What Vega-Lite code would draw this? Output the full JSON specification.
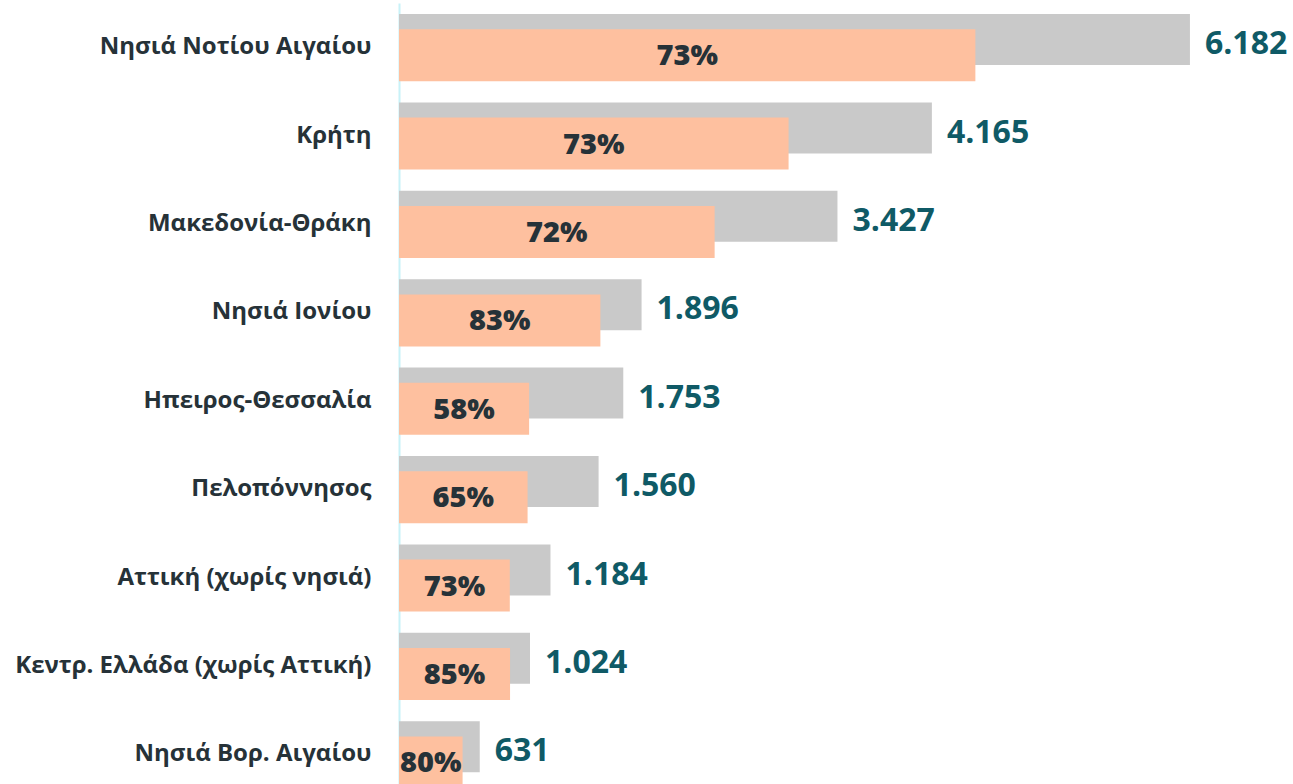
{
  "$schema": "https://vega.github.io/schema/vega-lite/v6.json",
  "width": 870,
  "height": 781,
  "autosize": {"type": "none"},
  "padding": {"left": 399, "top": 3, "right": 24, "bottom": 0},
  "background": "white",
  "config": {"view": {"stroke": null}},
  "data": {
    "values": [
      {"region": "Νησιά Νοτίου Αιγαίου", "total": 6182, "part": 4505, "total_label": "6.182", "pct": "73%"},
      {"region": "Κρήτη", "total": 4165, "part": 3045, "total_label": "4.165", "pct": "73%"},
      {"region": "Μακεδονία-Θράκη", "total": 3427, "part": 2467, "total_label": "3.427", "pct": "72%"},
      {"region": "Νησιά Ιονίου", "total": 1896, "part": 1574, "total_label": "1.896", "pct": "83%"},
      {"region": "Ηπειρος-Θεσσαλία", "total": 1753, "part": 1017, "total_label": "1.753", "pct": "58%"},
      {"region": "Πελοπόννησος", "total": 1560, "part": 1005, "total_label": "1.560", "pct": "65%"},
      {"region": "Αττική (χωρίς νησιά)", "total": 1184, "part": 866, "total_label": "1.184", "pct": "73%"},
      {"region": "Κεντρ. Ελλάδα (χωρίς Αττική)", "total": 1024, "part": 868, "total_label": "1.024", "pct": "85%"},
      {"region": "Νησιά Βορ. Αιγαίου", "total": 631, "part": 497, "total_label": "631", "pct": "80%"}
    ]
  },
  "encoding": {
    "y": {
      "field": "region",
      "type": "nominal",
      "sort": null,
      "scale": {"range": [0, 795.6], "paddingInner": 0, "paddingOuter": 0},
      "axis": {
        "title": null,
        "ticks": false,
        "labelPadding": 28,
        "labelFont": "Open Sans",
        "labelFontSize": 24,
        "labelFontWeight": "bold",
        "labelColor": "#263238",
        "labelLimit": 420,
        "domainColor": "#c8f2f8",
        "domainWidth": 2
      }
    }
  },
  "layer": [
    {
      "mark": {"type": "bar", "color": "#c9c9c9", "height": 51, "yOffset": -7.7},
      "encoding": {
        "x": {"field": "total", "type": "quantitative", "scale": {"domain": [0, 6800], "nice": false}, "axis": null}
      }
    },
    {
      "mark": {"type": "bar", "color": "#fec09f", "height": 52, "yOffset": 8},
      "encoding": {
        "x": {"field": "part", "type": "quantitative", "scale": {"domain": [0, 6800], "nice": false}, "axis": null}
      }
    },
    {
      "mark": {"type": "text", "align": "left", "baseline": "middle", "dx": 15, "dy": -3, "font": "Open Sans", "fontSize": 32, "fontWeight": "bold", "color": "#0f5a66"},
      "encoding": {
        "x": {"field": "total", "type": "quantitative", "scale": {"domain": [0, 6800], "nice": false}, "axis": null},
        "text": {"field": "total_label"}
      }
    },
    {
      "mark": {"type": "text", "align": "center", "baseline": "middle", "dy": 9, "font": "Open Sans", "fontSize": 29, "fontWeight": 900, "color": "#263238"},
      "encoding": {
        "x": {"field": "part", "type": "quantitative", "scale": {"domain": [0, 6800], "range": [0, 435], "nice": false}, "axis": null},
        "text": {"field": "pct"}
      }
    }
  ],
  "resolve": {"scale": {"x": "independent"}}
}
